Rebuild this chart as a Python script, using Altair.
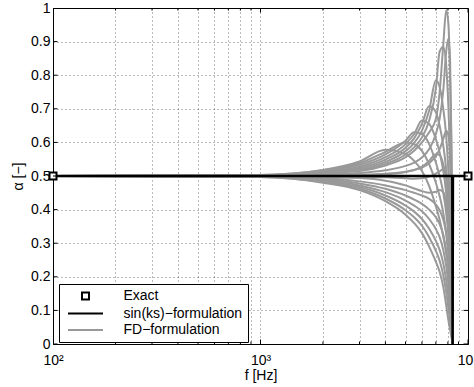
import altair as alt
import pandas as pd

FONT = "Liberation Sans"

# frequencies (Hz) at which the FD-formulation curves were read
FREQS = [100, 1000, 2000, 3000, 4000, 5000, 5500, 6000, 6500, 7000, 7300, 7600, 7850, 8050, 8200, 8320, 8400, 8430]

# FD-formulation curves: arcs peaking on the upper envelope
FD_A1 = [.5, .501, .509, .515, .531, .556, .575, .60, .63, .67, .75, .89, .993, .95, .78, .56, .25, 0]
FD_A2 = [.5, .501, .51, .517, .536, .564, .585, .615, .665, .76, .87, .885, .83, .70, .55, .37, .16, 0]
FD_A3 = [.5, .502, .511, .52, .542, .574, .598, .635, .695, .785, .765, .70, .62, .51, .40, .26, .11, 0]
FD_A4 = [.5, .502, .512, .524, .549, .584, .612, .655, .708, .69, .65, .59, .52, .43, .34, .22, .09, 0]
FD_A5 = [.5, .502, .513, .528, .556, .595, .625, .665, .655, .61, .57, .515, .45, .37, .29, .19, .08, 0]
FD_A6 = [.5, .502, .515, .533, .564, .605, .63, .625, .595, .54, .5, .45, .39, .32, .25, .16, .07, 0]
FD_A7 = [.5, .503, .517, .538, .572, .60, .595, .575, .535, .48, .44, .39, .33, .27, .21, .14, .06, 0]
FD_A8 = [.5, .503, .518, .543, .578, .565, .545, .515, .47, .41, .37, .32, .27, .22, .17, .11, .05, 0]
# late arcs and bumps
FD_B1 = [.5, .5, .505, .509, .517, .53, .54, .555, .58, .625, .67, .755, .87, .91, .84, .6, .3, 0]
FD_B2 = [.5, .5, .502, .504, .507, .513, .518, .525, .538, .56, .58, .61, .635, .62, .55, .4, .18, 0]
FD_B3 = [.5, .5, .501, .502, .505, .512, .518, .528, .545, .565, .562, .535, .49, .42, .34, .23, .1, 0]
FD_B4 = [.5, .499, .497, .494, .486, .472, .463, .455, .45, .453, .458, .452, .42, .36, .29, .19, .08, 0]
FD_B5 = [.5, .5, .499, .498, .496, .493, .492, .493, .498, .507, .514, .52, .505, .46, .39, .27, .12, 0]
# descending curves
FD_C1 = [.5, .497, .48, .458, .425, .385, .36, .33, .29, .245, .215, .17, .115, .07, .042, .02, .008, 0]
FD_C2 = [.5, .497, .482, .462, .433, .398, .377, .352, .318, .277, .248, .205, .155, .105, .068, .035, .014, 0]
FD_C3 = [.5, .498, .485, .467, .442, .412, .394, .372, .343, .307, .28, .24, .19, .14, .095, .05, .02, 0]
FD_C4 = [.5, .498, .488, .472, .452, .427, .412, .395, .372, .342, .318, .28, .232, .178, .125, .07, .028, 0]
FD_C5 = [.5, .499, .491, .478, .462, .442, .43, .417, .4, .377, .357, .325, .28, .22, .16, .09, .037, 0]
FD_C6 = [.5, .499, .494, .484, .472, .458, .45, .442, .432, .415, .398, .37, .33, .27, .2, .12, .05, 0]

FD_NAMES = ["A1", "A2", "A3", "A4", "A5", "A6", "A7", "A8", "B1", "B2", "B3", "B4", "B5",
            "C1", "C2", "C3", "C4", "C5", "C6"]
FD_VALUES = [FD_A1, FD_A2, FD_A3, FD_A4, FD_A5, FD_A6, FD_A7, FD_A8, FD_B1, FD_B2, FD_B3,
             FD_B4, FD_B5, FD_C1, FD_C2, FD_C3, FD_C4, FD_C5, FD_C6]

# sin(ks)-formulation
SIN_F = [100, 8400, 8430, 8460, 10000]
SIN_A = [0.5, 0.5, 0.0, 0.5, 0.5]

# exact solution markers
EXACT_F = [100, 10000]
EXACT_A = [0.5, 0.5]

SERIES = ["Exact", "sin(ks)\u2212formulation", "FD\u2212formulation"]
SERIES_COLORS = ["black", "black", "#999999"]
SERIES_SHAPES = ["M-0.7,-0.7H0.7V0.7H-0.7Z", "M-3.5,0H3.5", "M-3.5,0H3.5"]

X_TICKS = [100, 200, 300, 400, 500, 600, 700, 800, 900,
           1000, 2000, 3000, 4000, 5000, 6000, 7000, 8000, 9000, 10000]
X_MAJOR = [100, 1000, 10000]
Y_TICKS = [0, 0.1, 0.2, 0.3, 0.4, 0.5, 0.6, 0.7, 0.8, 0.9, 1]
X_EDGES = [100, 10000]
Y_EDGES = [0, 1]

fd_rows = []
for name, vals in zip(FD_NAMES, FD_VALUES):
    for i, (f, a) in enumerate(zip(FREQS, vals)):
        fd_rows.append({"f": f, "a": a, "curve": name, "order": i, "series": SERIES[2]})
fd_df = pd.DataFrame(fd_rows)
sin_df = pd.DataFrame({"f": SIN_F, "a": SIN_A, "order": list(range(len(SIN_F))), "series": SERIES[1]})
exact_df = pd.DataFrame({"f": EXACT_F, "a": EXACT_A, "series": SERIES[0]})

# inward tick marks on all four sides (box axes)
ytick_df = pd.DataFrame([{"f": xe, "a": v} for xe in X_EDGES for v in Y_TICKS])
xtick_df = pd.DataFrame([{"f": v, "a": ye, "major": v in X_MAJOR} for ye in Y_EDGES for v in X_TICKS])

xscale = alt.Scale(type="log", domain=[100, 10000], nice=False)
yscale = alt.Scale(domain=[0, 1], nice=False, zero=False)

xaxis = alt.Axis(
    values=X_TICKS, title="f [Hz]", grid=True, ticks=False, labelFlush=False, labelOverlap=False,
    labelExpr="datum.value == 100 ? '10\u00b2' : datum.value == 1000 ? '10\u00b3' : datum.value == 10000 ? '10\u2074' : ''",
    labelPadding=9, titlePadding=1,
)
yaxis = alt.Axis(
    values=Y_TICKS, title="\u03b1 [\u2212]", grid=True, ticks=False, format=".1~f",
    labelFlush=False, labelOverlap=False, labelPadding=3, titlePadding=5,
)

legend = alt.Legend(
    title=None, orient="none", legendX=6, legendY=276,
    fillColor="white", strokeColor="black", padding=5, cornerRadius=0,
    symbolSize=100, symbolStrokeWidth=2, symbolOffset=14.5, labelOffset=31,
    labelFont=FONT, labelFontSize=14, labelColor="black", rowPadding=2.5,
)

color_scale = alt.Scale(domain=SERIES, range=SERIES_COLORS)
shape_scale = alt.Scale(domain=SERIES, range=SERIES_SHAPES)

X = alt.X("f:Q", scale=xscale, axis=xaxis)
Y = alt.Y("a:Q", scale=yscale, axis=yaxis)

fd_lines = alt.Chart(fd_df).mark_line(strokeWidth=2, interpolate="monotone").encode(
    x=X, y=Y, detail="curve:N", order="order:Q",
    color=alt.Color("series:N", scale=color_scale, legend=legend),
)

sin_line = alt.Chart(sin_df).mark_line(strokeWidth=2.5).encode(
    x=X, y=Y, order="order:Q",
    color=alt.Color("series:N", scale=color_scale, legend=legend),
)

exact_pts = alt.Chart(exact_df).mark_point(filled=False, size=100, strokeWidth=2, opacity=1, clip=False, fill="white").encode(
    x=X, y=Y,
    color=alt.Color("series:N", scale=color_scale, legend=legend),
    shape=alt.Shape("series:N", scale=shape_scale, legend=legend),
)

yticks = alt.Chart(ytick_df).mark_tick(orient="horizontal", size=9, thickness=1, color="black", clip=True, opacity=1).encode(
    x=X, y=Y,
)
xticks = alt.Chart(xtick_df).mark_tick(orient="vertical", thickness=1, color="black", clip=True, opacity=1).encode(
    x=X, y=Y,
    size=alt.condition("datum.major", alt.value(9), alt.value(5)),
)

chart = alt.layer(fd_lines, sin_line, exact_pts, yticks, xticks).properties(
    width=415, height=336,
    autosize=alt.AutoSizeParams(type="none"),
    padding={"left": 53, "top": 8, "right": 6, "bottom": 43},
).configure_view(
    stroke="black", strokeWidth=1,
).configure_axis(
    labelFont=FONT, titleFont=FONT, labelFontSize=14, titleFontSize=14,
    labelColor="black", titleColor="black", titleFontWeight="normal",
    domainColor="black", domainWidth=1,
    gridColor="black", gridDash=[1, 3], gridOpacity=0.55, gridWidth=1,
)

chart.save("out.html", embed_options={"renderer": "svg", "actions": False})
